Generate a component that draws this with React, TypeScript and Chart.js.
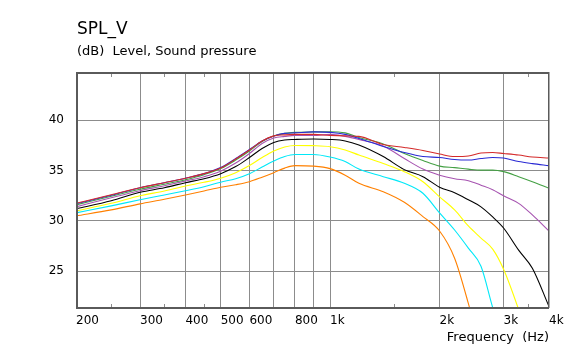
import React, { useEffect, useRef } from 'react';
import { Chart, registerables } from 'chart.js';

Chart.register(...registerables);

// ---- data ----
const freqs = [200, 250, 300, 350, 400, 450, 500, 550, 600, 650, 700, 750, 800, 900, 1000, 1100, 1200, 1400, 1600, 1800, 2000, 2200, 2400, 2600, 2800, 3000, 3300, 3600, 4000];

const redSeries = [31.75, 32.6, 33.3, 33.8, 34.25, 34.7, 35.25, 36.15, 37.05, 37.95, 38.45, 38.55, 38.6, 38.6, 38.5, 38.45, 38.4, 37.6, 37.3, 37.0, 36.65, 36.4, 36.45, 36.75, 36.8, 36.7, 36.55, 36.35, 36.25];
const blueSeries = [31.7, 32.55, 33.3, 33.8, 34.25, 34.7, 35.3, 36.2, 37.1, 37.95, 38.45, 38.7, 38.75, 38.85, 38.8, 38.6, 38.2, 37.4, 36.8, 36.4, 36.3, 36.1, 36.05, 36.2, 36.3, 36.25, 35.9, 35.7, 35.5];
const greenSeries = [31.6, 32.45, 33.15, 33.65, 34.1, 34.6, 35.2, 36.05, 36.95, 37.9, 38.45, 38.7, 38.8, 38.85, 38.87, 38.75, 38.3, 37.65, 36.7, 36.0, 35.45, 35.3, 35.15, 35.05, 35.05, 34.9, 34.4, 33.9, 33.25];
const purpleSeries = [31.4, 32.3, 33.0, 33.5, 33.97, 34.4, 34.95, 35.75, 36.7, 37.7, 38.25, 38.4, 38.5, 38.5, 38.6, 38.4, 38.1, 37.45, 36.2, 35.15, 34.55, 34.2, 34.0, 33.55, 33.1, 32.5, 31.75, 30.6, 29.0];
const blackSeries = [31.2, 32.0, 32.85, 33.3, 33.8, 34.2, 34.7, 35.4, 36.3, 37.2, 37.8, 38.05, 38.1, 38.15, 38.1, 37.95, 37.55, 36.4, 35.1, 34.4, 33.35, 32.8, 32.1, 31.4, 30.4, 29.3, 27.1, 25.3, 21.5];
const yellowSeries = [31.0, 31.75, 32.5, 32.98, 33.47, 33.84, 34.25, 34.8, 35.5, 36.3, 36.95, 37.35, 37.5, 37.48, 37.38, 37.05, 36.55, 35.7, 34.9, 33.9, 32.4, 31.1, 29.5, 28.3, 27.2, 25.2, 21.2, 17.0, null];
const cyanSeries = [30.8, 31.5, 32.1, 32.58, 33.0, 33.4, 33.85, 34.2, 34.7, 35.35, 35.95, 36.4, 36.6, 36.6, 36.35, 35.9, 35.15, 34.4, 33.74, 32.75, 30.8, 29.1, 27.3, 25.5, 21.4, 18.0, null, null, null];
const orangeSeries = [30.5, 31.1, 31.7, 32.15, 32.58, 32.98, 33.35, 33.6, 33.9, 34.35, 34.8, 35.25, 35.5, 35.45, 35.2, 34.55, 33.74, 32.9, 31.85, 30.43, 29.0, 26.3, 21.8, 17.0, null, null, null, null, null];

const seriesList: { name: string; color: string; values: (number | null)[] }[] = [
  { name: 'red', color: '#d42a2a', values: redSeries },
  { name: 'blue', color: '#2a2ad4', values: blueSeries },
  { name: 'green', color: '#44a044', values: greenSeries },
  { name: 'purple', color: '#a653b0', values: purpleSeries },
  { name: 'black', color: '#000000', values: blackSeries },
  { name: 'yellow', color: '#ffff00', values: yellowSeries },
  { name: 'cyan', color: '#00e8f8', values: cyanSeries },
  { name: 'orange', color: '#ff8000', values: orangeSeries },
];

const xTickValues = [200, 250, 300, 350, 400, 450, 500, 600, 700, 800, 900, 1000, 1500, 2000, 3000, 3500, 4000];
const xTickLabels: Record<number, string> = { 200: '200', 300: '300', 400: '400', 500: '500', 600: '600', 800: '800', 1000: '1k', 2000: '2k', 3000: '3k', 4000: '4k' };
const xGridValues = [300, 400, 500, 600, 700, 800, 900, 1000, 2000, 3000];
const xMinorValues = [250, 350, 450, 1500, 3500];
const yTickValues = [25, 30, 35, 40];

const titleText = 'SPL_V';
const subtitleText = '(dB)  Level, Sound pressure';
const xTitleText = 'Frequency  (Hz)';

const FONT = '"DejaVu Sans", Verdana, sans-serif';
const GRID = '#8c8c8c';
const FRAME = '#5a5a5a';

const framePlugin = {
  id: 'frameAndText',
  afterDraw(chart: any) {
    const ctx = chart.ctx;
    const { left, right, top, bottom } = chart.chartArea;
    const xs = chart.scales.x;
    ctx.save();
    // minor ticks
    ctx.strokeStyle = GRID;
    ctx.lineWidth = 1;
    ctx.beginPath();
    for (const v of xMinorValues) {
      const p = Math.round(xs.getPixelForValue(v)) + 0.5;
      ctx.moveTo(p, bottom);
      ctx.lineTo(p, bottom - 4);
      ctx.moveTo(p, top);
      ctx.lineTo(p, top + 5);
    }
    ctx.stroke();
    // frame
    ctx.strokeStyle = FRAME;
    ctx.lineWidth = 2;
    ctx.beginPath();
    ctx.moveTo(right, top + 1);
    ctx.lineTo(left + 1, top + 1);
    ctx.lineTo(left + 1, bottom);
    ctx.lineTo(right, bottom);
    ctx.stroke();
    ctx.lineWidth = 1.5;
    ctx.beginPath();
    ctx.moveTo(right - 0.25, top);
    ctx.lineTo(right - 0.25, bottom);
    ctx.stroke();
    // titles
    ctx.fillStyle = '#000';
    ctx.textAlign = 'left';
    ctx.textBaseline = 'alphabetic';
    ctx.font = '17px ' + FONT;
    ctx.fillText(titleText, 77, 34);
    ctx.font = '13px ' + FONT;
    ctx.fillText(subtitleText, 77, 55);
    ctx.restore();
  },
};

export default function App() {
  const ref = useRef<HTMLCanvasElement | null>(null);
  useEffect(() => {
    document.body.style.margin = '0';
    const canvas = ref.current;
    if (!canvas) return;
    Chart.defaults.font.family = FONT;
    const chart = new Chart(canvas, {
      type: 'line',
      data: {
        datasets: seriesList.map((s) => ({
          label: s.name,
          data: freqs
            .map((f, i) => ({ x: f, y: s.values[i] }))
            .filter((p) => p.y !== null) as { x: number; y: number }[],
          borderColor: s.color,
          backgroundColor: s.color,
          borderWidth: 1.1,
          pointRadius: 0,
          tension: 0.2,
          cubicInterpolationMode: 'monotone',
          fill: false,
        })),
      },
      options: {
        animation: false,
        responsive: false,
        devicePixelRatio: 1,
        layout: { padding: { left: 0, right: 29, top: 72, bottom: 0 } },
        plugins: {
          legend: { display: false },
          title: { display: false },
          tooltip: { enabled: false },
        },
        scales: {
          x: {
            type: 'logarithmic',
            min: 200,
            max: 4000,
            afterBuildTicks: (scale: any) => {
              scale.ticks = xTickValues.map((v) => ({ value: v }));
            },
            afterFit: (scale: any) => {
              scale.height = 43;
            },
            ticks: {
              autoSkip: false,
              maxRotation: 0,
              minRotation: 0,
              align: 'start',
              padding: 6,
              color: '#000',
              font: { size: 12, family: FONT },
              callback: (v: any) => xTickLabels[Number(v)] ?? '',
            },
            grid: {
              drawTicks: false,
              color: (c: any) => (c.tick && xGridValues.includes(c.tick.value) ? GRID : 'rgba(0,0,0,0)'),
              lineWidth: 1,
            },
            border: { display: false },
            title: {
              display: true,
              text: xTitleText,
              align: 'end',
              color: '#000',
              font: { size: 13, family: FONT },
              padding: { top: 0, bottom: 6 },
            },
          },
          y: {
            type: 'linear',
            min: 21.35,
            max: 44.8,
            afterBuildTicks: (scale: any) => {
              scale.ticks = yTickValues.map((v) => ({ value: v }));
            },
            afterFit: (scale: any) => {
              scale.width = 76;
            },
            ticks: {
              padding: 12,
              color: '#000',
              font: { size: 12, family: FONT },
              callback: (v: any) => String(v),
            },
            grid: { drawTicks: false, color: GRID, lineWidth: 1 },
            border: { display: false },
          },
        },
      } as any,
      plugins: [framePlugin],
    });
    return () => chart.destroy();
  }, []);
  return (
    <div style={{ width: 578, height: 351 }}>
      <canvas ref={ref} width={578} height={351} style={{ display: 'block', width: 578, height: 351 }} />
    </div>
  );
}
